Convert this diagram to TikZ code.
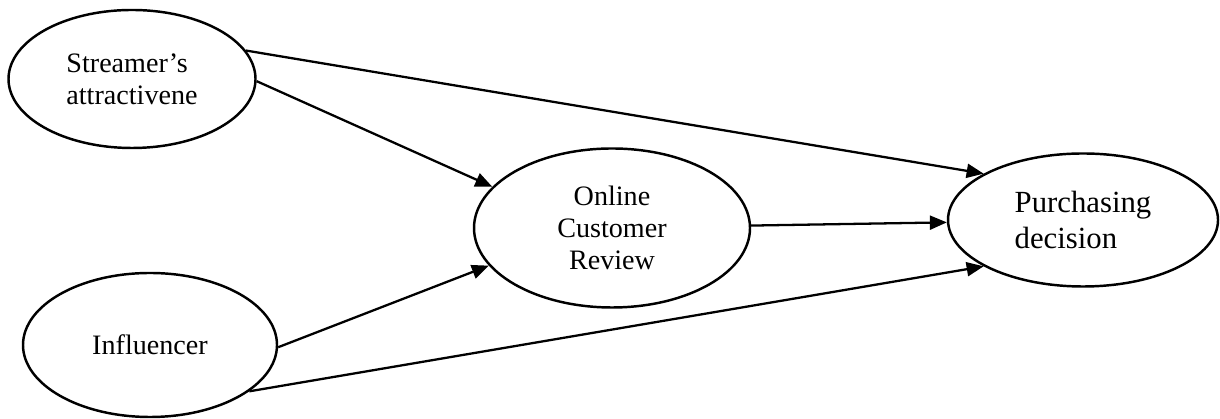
\documentclass[tikz,border=0pt]{standalone}
\usepackage{fontspec}
\setmainfont{Liberation Serif}
\usetikzlibrary{arrows.meta, shapes.geometric}

\begin{document}
\begin{tikzpicture}[
  construct/.style={ellipse, draw=black, line width=1.4pt, inner sep=0pt,
              font=\fontsize{16}{18.2}\selectfont},
  effect/.style={draw=black, line width=1.3pt, -{Triangle[length=3.4mm, width=2.8mm]}},
]
\useasboundingbox (0, 0) rectangle (24.4, 8.38);
% ---- exogenous constructs (left)
\node[construct, minimum width=4.94cm, minimum height=2.76cm, align=left] (attract) at (2.64, 6.8) {Streamer's\\attractivene};
\node[construct, minimum width=5.08cm, minimum height=2.88cm] (influencer) at (3.0, 1.48) {Influencer};
% ---- mediator and outcome
\node[construct, minimum width=5.52cm, minimum height=3.18cm, align=center] (review) at (12.24, 3.82) {Online\\Customer\\Review};
\node[construct, minimum width=5.4cm, minimum height=2.66cm, align=left,
      font=\fontsize{17.5}{20}\selectfont] (decision) at (21.66, 3.98) {Purchasing\\decision};
% ---- paths
\draw[effect] (attract.14) -- (decision.155);
\draw[effect] (attract.-1) -- (review.161);
\draw[effect] (influencer.-1) -- (review.197);
\draw[effect] (influencer.335) -- (decision.205);
\draw[effect] (review.1) -- (decision.181);
\end{tikzpicture}
\end{document}
